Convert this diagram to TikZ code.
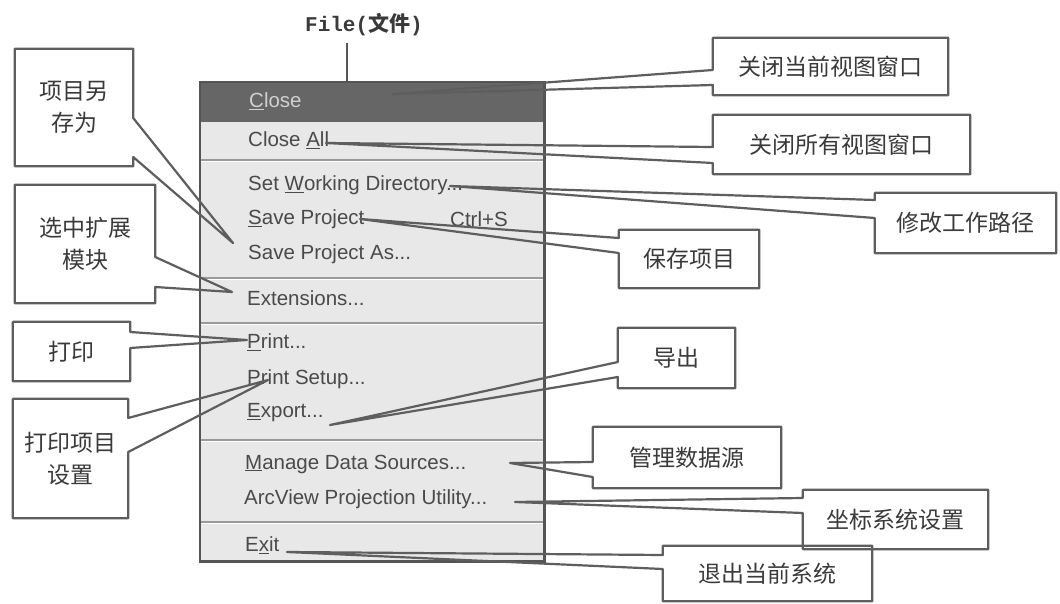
\documentclass[tikz,border=0pt]{standalone}
\usepackage{fontspec}
\setmainfont{Liberation Sans}
\newfontfamily\cjk{Noto Sans CJK SC}
\newfontfamily\monof{Liberation Mono}
\definecolor{boxc}{HTML}{5E5E5E}
\definecolor{txt}{HTML}{3A3A3A}
\definecolor{menubg}{HTML}{E8E8E8}
\definecolor{hdr}{HTML}{666666}
\definecolor{hdrtxt}{HTML}{D0D0D0}
\definecolor{menutxt}{HTML}{4A4A4A}
\definecolor{sepc}{HTML}{9A9A9A}
\definecolor{menuborder}{HTML}{555555}
\tikzset{
  cbox/.style={draw=none, inner sep=0pt, font=\cjk\fontsize{23}{32}\selectfont, text=txt, align=center},
  cline/.style={draw=boxc, line width=2.2pt, line join=round},
  item/.style={anchor=west, inner sep=0pt, font=\fontsize{20.5}{24}\selectfont, text=menutxt},
  sepline/.style={draw=sepc, line width=1.5pt},
}
\newcommand\calloutW[4]{\draw[cline] (#1.north west) -- (#1.north east) -- (#1.south east) -- (#1.south west) -- (#1.west |- 0,#4) -- (#2) -- (#1.west |- 0,#3) -- cycle;}
\newcommand\calloutE[4]{\draw[cline] (#1.north east) -- (#1.north west) -- (#1.south west) -- (#1.south east) -- (#1.east |- 0,#4) -- (#2) -- (#1.east |- 0,#3) -- cycle;}
\begin{document}
\begin{tikzpicture}[x=1pt,y=-1pt]
\useasboundingbox[fill=white] (0,0) rectangle (1060,604);
% title
\node[inner sep=0pt, font=\monof\bfseries\fontsize{21}{24}\selectfont, text=txt] (title) at (364,25) {File({\cjk 文件})};
% menu
\node[fill=menubg, minimum width=344pt, minimum height=479pt, anchor=north west, inner sep=0pt] (menu) at (200,82) {};
\fill[hdr] (menu.north west) rectangle (menu.north east |- 0,122);
\foreach \yy in {160,278,323,440,522}{
  \draw[sepline] (menu.west |- 0,\yy) -- (menu.east |- 0,\yy);
  \draw[white, line width=1pt] (menu.west |- 0,\yy+1.5) -- (menu.east |- 0,\yy+1.5);
}
\draw[draw=menuborder, line width=2.5pt] (menu.north west) rectangle (menu.south east);
\coordinate (tl) at (347,43);
\draw[draw=menuborder, line width=2.5pt] (tl) -- (tl |- menu.north);
% menu items
\node[item, text=hdrtxt] (close) at (249,101) {\underline{C}lose};
\node[item] (closeall) at (248,140) {Close \underline{A}ll};
\node[item] (setwd) at (248,185) {Set \underline{W}orking Directory...};
\node[item] (save) at (248,219) {\underline{S}ave Project};
\node[item] (ctrls) at (450,219) {Ctrl+S};
\node[item] (saveas) at (248,254) {Save Project As...};
\node[item] (ext) at (247,298) {Extensions...};
\node[item] (print) at (247,342) {\underline{P}rint...};
\node[item] (psetup) at (247,379) {Print Setup...};
\node[item] (export) at (247,413) {\underline{E}xport...};
\node[item] (manage) at (245,464) {\underline{M}anage Data Sources...};
\node[item] (arcview) at (244,499) {ArcView Projection Utility...};
\node[item] (exit) at (245,545) {E\underline{x}it};
% pointer tips
\coordinate (t1) at (393,94);
\coordinate (t2) at (326,143);
\coordinate (t3) at (450,186);
\coordinate (t4) at (360,219);
\coordinate (t5) at (330,425);
\coordinate (t6) at (510,463);
\coordinate (t7) at (515,502);
\coordinate (t8) at (287,552);
\coordinate (t9) at (233,243);
\coordinate (t10) at (232,292);
\coordinate (t11) at (247,340);
\coordinate (t12) at (268,380);
% right callouts
\node[cbox, minimum width=235pt, minimum height=57pt] (c1) at (830.5,66.5) {关闭当前视图窗口};
\calloutW{c1}{t1}{70}{85}
\node[cbox, minimum width=257pt, minimum height=59pt] (c2) at (841.5,144.5) {关闭所有视图窗口};
\calloutW{c2}{t2}{147}{163}
\node[cbox, minimum width=181pt, minimum height=60pt] (c3) at (965.5,223) {修改工作路径};
\calloutW{c3}{t3}{200}{218}
\node[cbox, minimum width=140pt, minimum height=58pt] (c4) at (689,259) {保存项目};
\calloutW{c4}{t4}{238}{253}
\node[cbox, minimum width=117pt, minimum height=60pt] (c5) at (676.5,358) {导出};
\calloutW{c5}{t5}{362}{377}
\node[cbox, minimum width=188pt, minimum height=61pt] (c6) at (687,457.5) {管理数据源};
\calloutW{c6}{t6}{462}{477}
\node[cbox, minimum width=185pt, minimum height=59pt] (c7) at (895.5,519.5) {坐标系统设置};
\calloutW{c7}{t7}{498}{513}
\node[cbox, minimum width=209pt, minimum height=55pt] (c8) at (767.5,573.5) {退出当前系统};
\calloutW{c8}{t8}{555}{569}
% left callouts
\node[cbox, minimum width=118pt, minimum height=117pt] (c9) at (74,107.5) {项目另\\存为};
\calloutE{c9}{t9}{118}{157}
\node[cbox, minimum width=140pt, minimum height=118pt] (c10) at (85,244) {选中扩展\\模块};
\calloutE{c10}{t10}{257}{287}
\node[cbox, minimum width=117pt, minimum height=59pt] (c11) at (71.5,351.5) {打印};
\calloutE{c11}{t11}{332}{348}
\node[cbox, minimum width=115pt, minimum height=119pt] (c12) at (70.5,458.5) {打印项目\\设置};
\calloutE{c12}{t12}{418}{452}
\end{tikzpicture}
\end{document}
